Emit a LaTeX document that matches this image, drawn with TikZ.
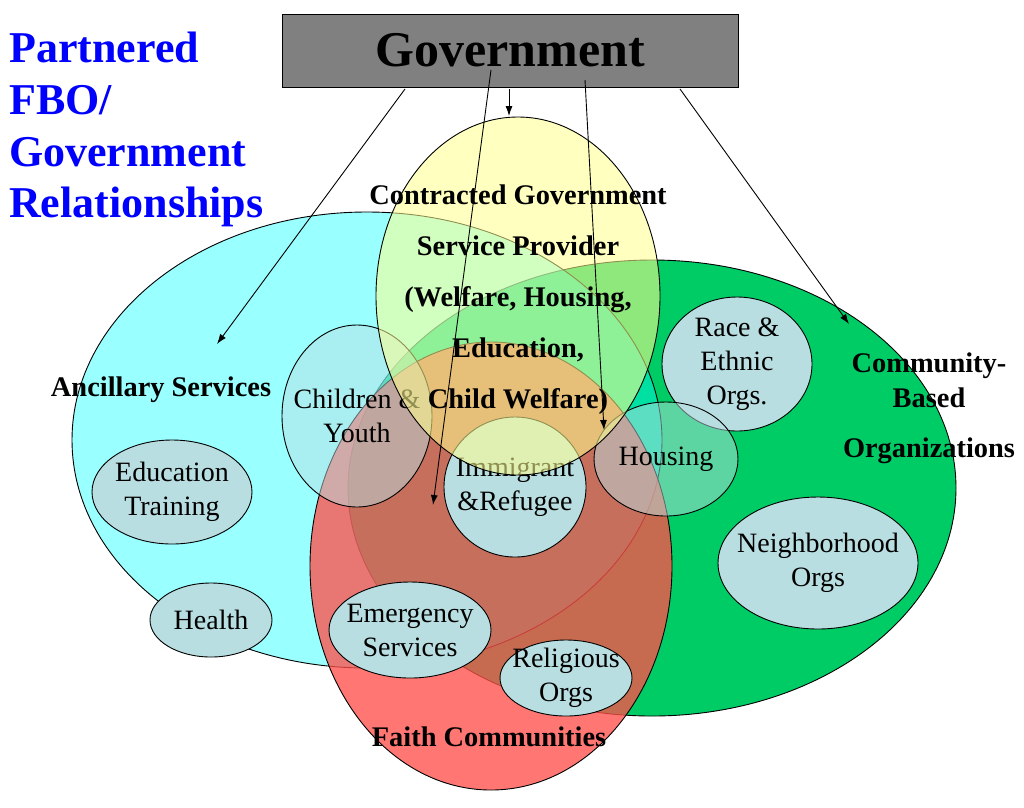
\documentclass[tikz,border=0pt]{standalone}
\usepackage{fontspec}
\setmainfont{Liberation Serif}
\usetikzlibrary{shapes.geometric,arrows.meta}

\definecolor{cbgreen}{RGB}{0,204,102}
\definecolor{ancillarycyan}{RGB}{0,255,255}
\definecolor{faithred}{RGB}{255,80,74}
\definecolor{contractyellow}{RGB}{255,255,142}
\definecolor{orgfill}{RGB}{185,222,225}
\definecolor{govgray}{RGB}{128,128,128}
\definecolor{titleblue}{RGB}{0,0,255}

\begin{document}
\begin{tikzpicture}[x=1pt, y=-1pt, >={Latex[length=10pt,width=7pt]},
    bigset/.style={ellipse, draw=black, line width=0.9pt, inner sep=0pt},
    orgset/.style 2 args={ellipse, draw=black, line width=0.9pt, inner sep=0pt,
      fill=orgfill, minimum width=#1pt, minimum height=#2pt},
    seethru/.style={fill opacity=0.5},
    setlabel/.style={font=\fontsize{28.4}{51}\selectfont\bfseries, align=center, inner sep=0pt},
    orglabel/.style={font=\fontsize{28}{34}\selectfont, align=center, opacity=1},
    govarrow/.style={->, line width=0.9pt}]
  \useasboundingbox (0,0) rectangle (1024,807);

  % Community-Based Organizations (at the back)
  \node[bigset, fill=cbgreen, minimum width=608pt, minimum height=456pt] (community) at (652,488) {};
  \node[orgset={150}{134}, label={[orglabel]center:{Race \&\\Ethnic\\Orgs.}}] (race) at (737,364) {};
  \node[orgset={200}{132}, label={[orglabel]center:{Neighborhood\\Orgs}}] (neighbour) at (818,563) {};

  % Ancillary Services
  \node[bigset, fill=ancillarycyan, fill opacity=0.4, minimum width=590pt, minimum height=456pt] (ancillary) at (367,440) {};
  \node[orgset={160}{104}, label={[orglabel]center:{Education\\Training}}] (education) at (172,492) {};
  \node[orgset={122}{74}, label={[orglabel]center:{Health}}] (health) at (211,620) {};

  % Faith Communities
  \node[bigset, fill=faithred, fill opacity=0.78, minimum width=362pt, minimum height=448pt] (faith) at (491,566) {};
  \node[orgset={150}{182}, seethru, label={[orglabel]center:{Children \&\\Youth}}] (children) at (357,416) {};
  \node[orgset={144}{114}, seethru, label={[orglabel]center:{Housing}}] (housing) at (666,459) {};
  \node[orgset={142}{140}, label={[orglabel]center:{Immigrant\\\&Refugee}}] (immigrant) at (515,487) {};
  \node[orgset={162}{96}, label={[orglabel]center:{Emergency\\Services}}] (emergency) at (410,630) {};
  \node[orgset={132}{76}, label={[orglabel]center:{Religious\\Orgs}}] (religious) at (566,678) {};

  % Contracted provider on top
  \node[bigset, fill=contractyellow, fill opacity=0.56, minimum width=284pt, minimum height=358pt] (contract) at (518,296) {};

  % set names
  \node[setlabel] (contract-t) at (518,300) {Contracted Government\\Service Provider\\(Welfare, Housing,\\Education,\\Child Welfare)};
  \node[setlabel] (ancillary-t) at (161,390) {Ancillary Services};
  \node[setlabel, font=\fontsize{28.4}{35}\selectfont\bfseries] (community-t) at (929,408) {Community-\\Based\\[15pt]Organizations};
  \node[setlabel] (faith-t) at (489,737) {Faith Communities};

  % Government box and title
  \node[draw=black, line width=1pt, fill=govgray, minimum width=456pt, minimum height=73pt, inner sep=0pt,
    font=\fontsize{50}{60}\selectfont\bfseries] (gov) at (510,50.5) {Government};
  \node[anchor=north west, inner sep=0pt, align=left, text=titleblue,
    font=\fontsize{44}{51.7}\selectfont\bfseries] (title) at (9,32) {Partnered\\FBO/\\Government\\Relationships};

  % arrows out of the Government box
  \coordinate (gov-anc) at (405,89);
  \coordinate (anc-tip) at (217,344);
  \coordinate (gov-con) at (509,89);
  \coordinate (con-tip) at (509,116);
  \coordinate (gov-fai) at (491,70);
  \coordinate (fai-tip) at (433,505);
  \coordinate (gov-hou) at (585,80);
  \coordinate (hou-tip) at (604,430);
  \coordinate (gov-com) at (680,89);
  \coordinate (com-tip) at (849,324);
  \draw[govarrow] (gov-anc) -- (anc-tip);
  \draw[govarrow] (gov-con) -- (con-tip);
  \draw[govarrow] (gov-fai) -- (fai-tip);
  \draw[govarrow] (gov-hou) -- (hou-tip);
  \draw[govarrow] (gov-com) -- (com-tip);
\end{tikzpicture}
\end{document}
